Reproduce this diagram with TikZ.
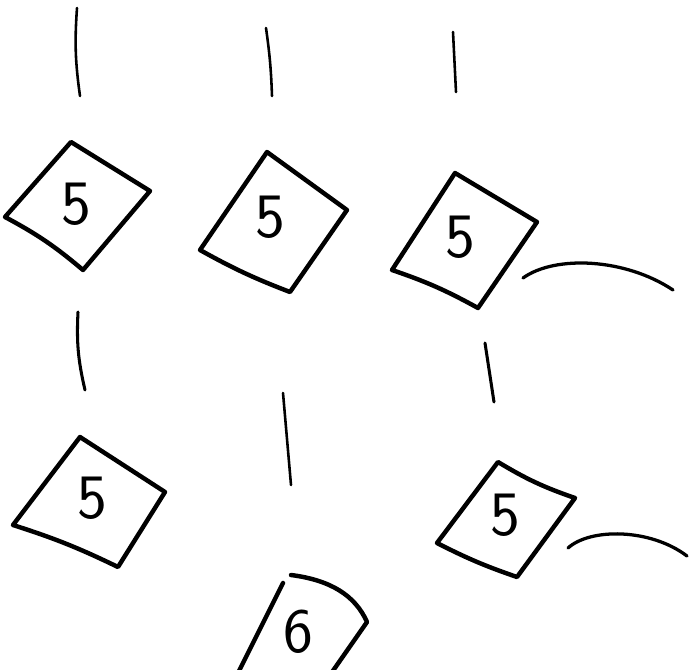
\documentclass[tikz,border=0pt]{standalone}
\usetikzlibrary{positioning}

\begin{document}
\begin{tikzpicture}[
    x=0.03cm,
    y=-0.03cm,
    pen/.style={line width=3.8pt, line cap=round, line join=round},
    thinpen/.style={line width=2.2pt, line cap=round},
    digit/.style={font=\fontsize{54}{60}\sffamily\selectfont, inner sep=0pt}
]
\useasboundingbox (0,0) rectangle (697,669);
\clip (0,0) rectangle (697,669);

% strokes at the top
\coordinate (ta1) at (77,8);
\coordinate (tb1) at (80,96);
\coordinate (ta2) at (266,28);
\coordinate (tb2) at (272,96);
\coordinate (ta3) at (453,32);
\coordinate (tb3) at (456,92);
\draw[thinpen] (ta1) to[bend right=6] (tb1);
\draw[thinpen] (ta2) to[bend left=3] (tb2);
\draw[thinpen] (ta3) -- (tb3);

% first row of cards
\coordinate (a1) at (71,142);
\coordinate (b1) at (150,191);
\coordinate (c1) at (83,270);
\coordinate (d1) at (5,217);
\draw[pen] (a1) -- (b1) -- (c1) to[bend right=6] (d1) -- cycle;
\node[digit] (five1) at (76,204) {5};

\coordinate (a2) at (267,152);
\coordinate (b2) at (347,210);
\coordinate (c2) at (290,292);
\coordinate (d2) at (200,250);
\draw[pen] (a2) -- (b2) -- (c2) to[bend left=4] (d2) -- cycle;
\node[digit] (five2) at (270,217) {5};

\coordinate (a3) at (455,173);
\coordinate (b3) at (537,222);
\coordinate (c3) at (478,308);
\coordinate (d3) at (392,270);
\draw[pen] (a3) -- (b3) -- (c3) to[bend right=5] (d3) -- cycle;
\node[digit] (five3) at (460,237) {5};

% curve right of third card
\coordinate (ca) at (523,278);
\coordinate (cb) at (673,290);
\draw[thinpen, line width=2.8pt] (ca) .. controls (555,255) and (625,258) .. (cb);

% strokes in the middle
\coordinate (ma1) at (78,312);
\coordinate (mb1) at (85,390);
\coordinate (ma2) at (283,393);
\coordinate (mb2) at (291,485);
\coordinate (ma3) at (485,343);
\coordinate (mb3) at (494,402);
\draw[thinpen, line width=2.6pt] (ma1) to[bend right=8] (mb1);
\draw[thinpen] (ma2) -- (mb2);
\draw[thinpen, line width=2.6pt] (ma3) -- (mb3);

% second row of cards
\coordinate (a4) at (80,437);
\coordinate (b4) at (165,492);
\coordinate (c4) at (118,567);
\coordinate (d4) at (13,525);
\draw[pen] (a4) -- (b4) -- (c4) to[bend right=4] (d4) -- cycle;
\node[digit] (five4) at (92,498) {5};

\coordinate (a5) at (498,462);
\coordinate (b5) at (575,498);
\coordinate (c5) at (517,577);
\coordinate (d5) at (437,543);
\draw[pen] (a5) to[bend right=6] (b5) -- (c5) to[bend left=4] (d5) -- cycle;
\node[digit] (five5) at (505,515) {5};

% curve right of fifth card
\coordinate (cc) at (568,548);
\coordinate (cd) at (687,556);
\draw[thinpen, line width=2.8pt] (cc) .. controls (590,528) and (650,528) .. (cd);

% last card, cut at the bottom
\coordinate (a6) at (291,575);
\coordinate (b6) at (367,622);
\coordinate (c6) at (330,675);
\coordinate (e6) at (283,583);
\coordinate (d6) at (237,675);
\draw[pen] (a6) .. controls (330,580) and (355,595) .. (b6) -- (c6);
\draw[pen] (e6) -- (d6);
\node[digit] (six) at (298,632) {6};

\end{tikzpicture}
\end{document}
